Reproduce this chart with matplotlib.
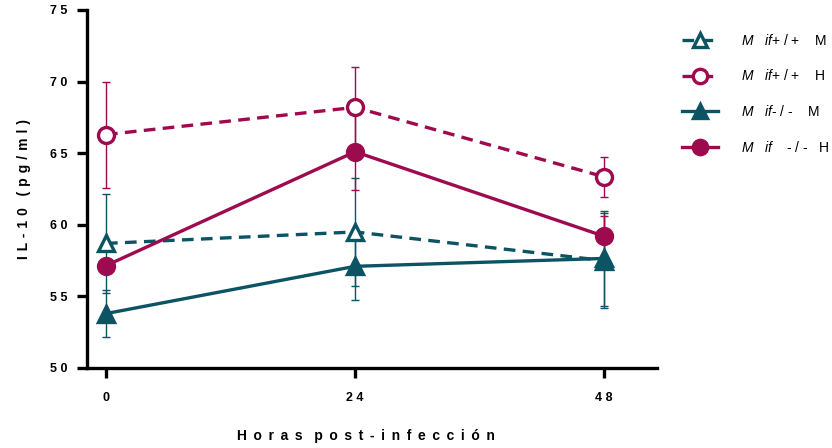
import matplotlib.pyplot as plt

plt.rcParams['font.family'] = ['Liberation Sans', 'DejaVu Sans']
plt.rcParams['mathtext.fontset'] = 'custom'
plt.rcParams['mathtext.it'] = 'Liberation Sans:italic'
plt.rcParams['mathtext.rm'] = 'Liberation Sans'

# IL-10 (pg/ml) por grupo, media y error estándar
horas = [0, 24, 48]
wt_m = [58.7, 59.5, 57.5]
wt_m_err = [3.43, 3.77, 3.3]
wt_h = [66.3, 68.2, 63.35]
wt_h_err = [3.7, 2.8, 1.4]
ko_m = [53.8, 57.1, 57.65]
ko_m_err = [1.65, 2.35, 3.3]
ko_h = [57.15, 65.1, 59.2]
ko_h_err = [0.55, 2.65, 1.4]

etiquetas = [r"$M$   $if$+ / +    M", r"$M$   $if$+ / +    H",
             r"$M$   $if$- / -    M", r"$M$   $if$    - / -   H"]

teal = "#0c5363"
mag = "#9e0a4e"


def espaciar(texto, sep=" \u200a"):
    # separa las letras como en la exportación original
    return sep.join(texto).replace(sep + " " + sep, "   ")


fig = plt.figure(figsize=(8.32, 4.48), dpi=100)
ax = fig.add_axes([0.1046, 0.1786, 0.6851, 0.7991])

series = [
    (wt_m, wt_m_err, teal, '--', '^', 'white'),
    (wt_h, wt_h_err, mag, '--', 'o', 'white'),
    (ko_m, ko_m_err, teal, '-', '^', teal),
    (ko_h, ko_h_err, mag, '-', 'o', mag),
]

handles = []
for (y, e, c, ls, mk, fc), lab in zip(series, etiquetas):
    ax.errorbar(horas, y, yerr=e, fmt='none', ecolor=c, elinewidth=1,
                capsize=3, capthick=1, zorder=2)
    h, = ax.plot(horas, y, color=c, ls=ls, lw=2.4, marker=mk, ms=11.5,
                 mfc=fc, mec=c, mew=2.4, zorder=3, label=lab,
                 dashes=(3.5, 2.2) if ls == '--' else (None, None))
    handles.append(h)

ax.set_xlim(-1.83, 53.1)
ax.set_ylim(50, 75)
ax.set_xticks(horas)
ax.set_xticklabels(["0", "2 4", "4 8"])
ax.set_yticks([50, 55, 60, 65, 70, 75])
ax.set_yticklabels(["5 0", "5 5", "6 0", "6 5", "7 0", "7 5"])

for s in ['top', 'right']:
    ax.spines[s].set_visible(False)
for s in ['left', 'bottom']:
    ax.spines[s].set_linewidth(2.4)
ax.tick_params(axis='both', width=2.4, length=7.5, labelsize=9)
ax.tick_params(axis='y', pad=6.5)
ax.tick_params(axis='x', pad=10)
for t in ax.get_xticklabels() + ax.get_yticklabels():
    t.set_fontweight('bold')

ax.set_ylabel(espaciar("IL-10 (pg/ml)", " \u200a"), fontsize=10,
              fontweight='bold', labelpad=14)
ax.set_xlabel(espaciar("Horas post-infección", " \u2009"), fontsize=10,
              fontweight='bold', labelpad=20)
ax.xaxis.set_label_coords(0.49, -0.17)

fig.legend(handles=handles, loc='upper left', bbox_to_anchor=(0.805, 0.955),
           frameon=False, fontsize=10, handlelength=2.6, labelspacing=1.5,
           handletextpad=1.65, markerscale=0.9)

fig.savefig("out.png", dpi=100)
